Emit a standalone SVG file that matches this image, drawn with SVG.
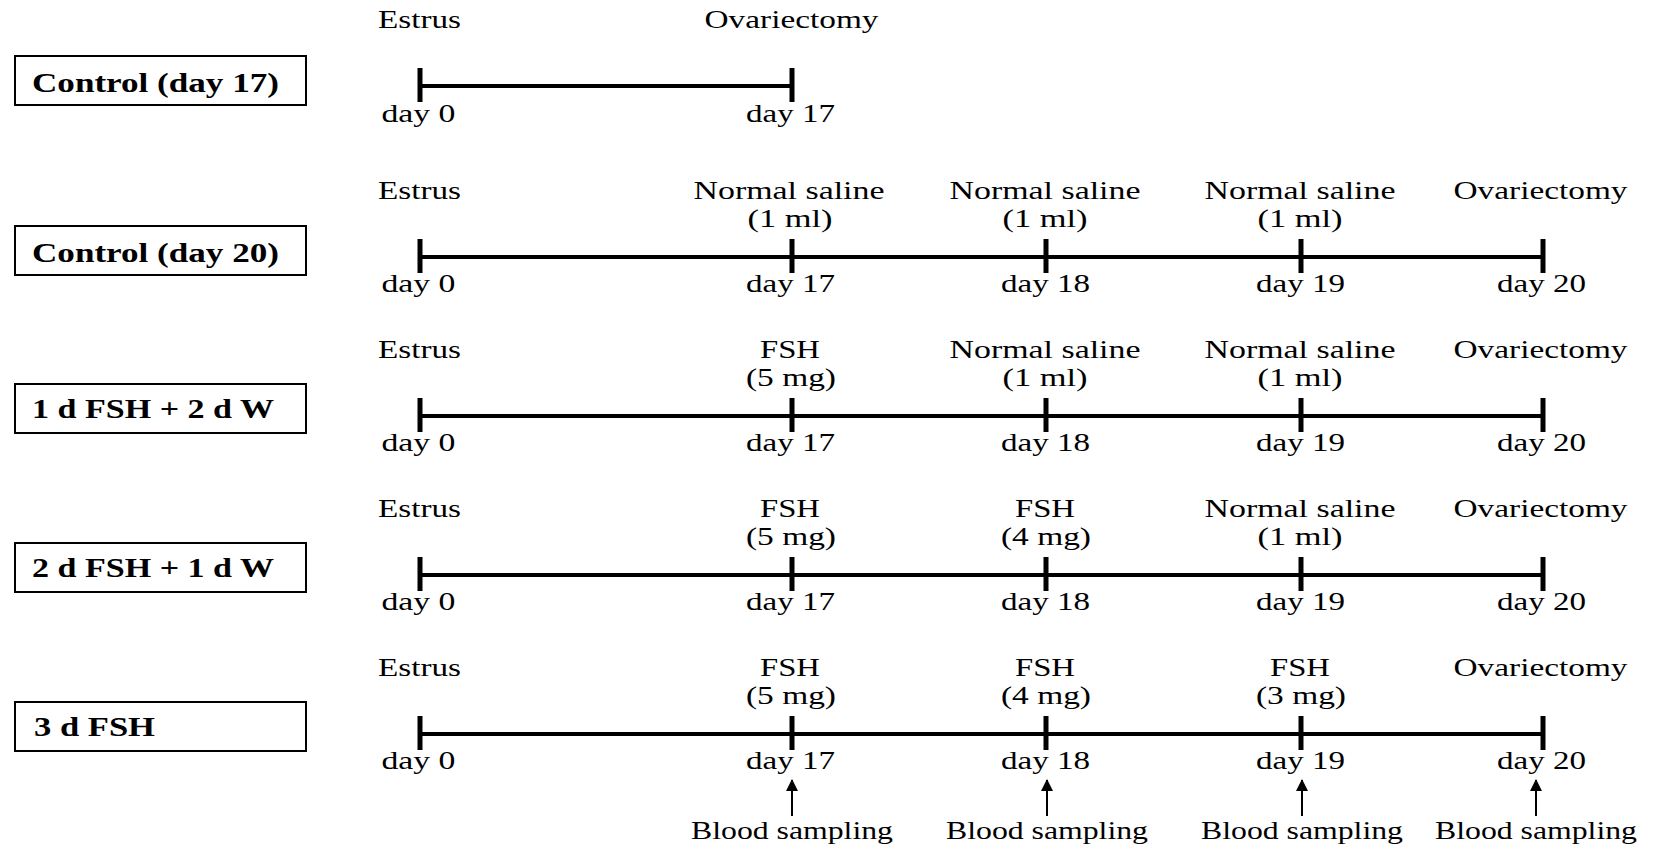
<svg xmlns="http://www.w3.org/2000/svg" width="1655" height="848" viewBox="0 0 1655 848">
<defs>
<style>
text{font-family:"Liberation Serif","Times New Roman",serif;fill:#000}
.t{font-size:25px;text-anchor:middle}
.b{font-size:27px;font-weight:bold;text-anchor:start}
.box{fill:#fff;stroke:#000;stroke-width:2}
.axis{stroke:#000;stroke-width:4;fill:none}
.tick{stroke:#000;stroke-width:5}
.arr{stroke:#000;stroke-width:2}
</style>
<marker id="ah" viewBox="0 0 12 12" refX="11" refY="6" markerWidth="12" markerHeight="12" markerUnits="userSpaceOnUse" orient="auto">
<path d="M0,0 L12,6 L0,12 Z" fill="#000"/>
</marker>
</defs>
<rect width="1655" height="848" fill="#fff"/>

<g id="row1">
<rect class="box" x="15" y="56" width="291" height="49"/>
<text class="b" x="32" y="92" textLength="247" lengthAdjust="spacingAndGlyphs">Control (day 17)</text>
<text class="t" x="419.5" y="28" textLength="83" lengthAdjust="spacingAndGlyphs">Estrus</text>
<text class="t" x="791.5" y="28" textLength="174" lengthAdjust="spacingAndGlyphs">Ovariectomy</text>
<line class="axis" x1="420" y1="86" x2="792" y2="86"/>
<line class="tick" x1="420" y1="68" x2="420" y2="102"/>
<line class="tick" x1="792" y1="68" x2="792" y2="102"/>
<text class="t" x="418.5" y="122" textLength="74" lengthAdjust="spacingAndGlyphs">day 0</text>
<text class="t" x="790.5" y="122" textLength="89" lengthAdjust="spacingAndGlyphs">day 17</text>
</g>

<g id="row2">
<rect class="box" x="15" y="226" width="291" height="49"/>
<text class="b" x="32" y="262" textLength="247" lengthAdjust="spacingAndGlyphs">Control (day 20)</text>
<text class="t" x="419.5" y="199" textLength="83" lengthAdjust="spacingAndGlyphs">Estrus</text>
<text class="t" x="789" y="199" textLength="191" lengthAdjust="spacingAndGlyphs">Normal saline</text>
<text class="t" x="790" y="227" textLength="85" lengthAdjust="spacingAndGlyphs">(1 ml)</text>
<text class="t" x="1045" y="199" textLength="191" lengthAdjust="spacingAndGlyphs">Normal saline</text>
<text class="t" x="1045" y="227" textLength="85" lengthAdjust="spacingAndGlyphs">(1 ml)</text>
<text class="t" x="1300" y="199" textLength="191" lengthAdjust="spacingAndGlyphs">Normal saline</text>
<text class="t" x="1300" y="227" textLength="85" lengthAdjust="spacingAndGlyphs">(1 ml)</text>
<text class="t" x="1540.5" y="199" textLength="174" lengthAdjust="spacingAndGlyphs">Ovariectomy</text>
<line class="axis" x1="420" y1="257" x2="1543" y2="257"/>
<line class="tick" x1="420" y1="239" x2="420" y2="273"/>
<line class="tick" x1="792" y1="239" x2="792" y2="273"/>
<line class="tick" x1="1046" y1="239" x2="1046" y2="273"/>
<line class="tick" x1="1301" y1="239" x2="1301" y2="273"/>
<line class="tick" x1="1543" y1="239" x2="1543" y2="273"/>
<text class="t" x="418.5" y="292" textLength="74" lengthAdjust="spacingAndGlyphs">day 0</text>
<text class="t" x="790.5" y="292" textLength="89" lengthAdjust="spacingAndGlyphs">day 17</text>
<text class="t" x="1045.5" y="292" textLength="89" lengthAdjust="spacingAndGlyphs">day 18</text>
<text class="t" x="1300.5" y="292" textLength="89" lengthAdjust="spacingAndGlyphs">day 19</text>
<text class="t" x="1541.5" y="292" textLength="89" lengthAdjust="spacingAndGlyphs">day 20</text>
</g>

<g id="row3">
<rect class="box" x="15" y="384" width="291" height="49"/>
<text class="b" x="32" y="418" textLength="242" lengthAdjust="spacingAndGlyphs">1 d FSH + 2 d W</text>
<text class="t" x="419.5" y="358" textLength="83" lengthAdjust="spacingAndGlyphs">Estrus</text>
<text class="t" x="790" y="358" textLength="60" lengthAdjust="spacingAndGlyphs">FSH</text>
<text class="t" x="791" y="386" textLength="90" lengthAdjust="spacingAndGlyphs">(5 mg)</text>
<text class="t" x="1045" y="358" textLength="191" lengthAdjust="spacingAndGlyphs">Normal saline</text>
<text class="t" x="1045" y="386" textLength="85" lengthAdjust="spacingAndGlyphs">(1 ml)</text>
<text class="t" x="1300" y="358" textLength="191" lengthAdjust="spacingAndGlyphs">Normal saline</text>
<text class="t" x="1300" y="386" textLength="85" lengthAdjust="spacingAndGlyphs">(1 ml)</text>
<text class="t" x="1540.5" y="358" textLength="174" lengthAdjust="spacingAndGlyphs">Ovariectomy</text>
<line class="axis" x1="420" y1="416" x2="1543" y2="416"/>
<line class="tick" x1="420" y1="398" x2="420" y2="432"/>
<line class="tick" x1="792" y1="398" x2="792" y2="432"/>
<line class="tick" x1="1046" y1="398" x2="1046" y2="432"/>
<line class="tick" x1="1301" y1="398" x2="1301" y2="432"/>
<line class="tick" x1="1543" y1="398" x2="1543" y2="432"/>
<text class="t" x="418.5" y="451" textLength="74" lengthAdjust="spacingAndGlyphs">day 0</text>
<text class="t" x="790.5" y="451" textLength="89" lengthAdjust="spacingAndGlyphs">day 17</text>
<text class="t" x="1045.5" y="451" textLength="89" lengthAdjust="spacingAndGlyphs">day 18</text>
<text class="t" x="1300.5" y="451" textLength="89" lengthAdjust="spacingAndGlyphs">day 19</text>
<text class="t" x="1541.5" y="451" textLength="89" lengthAdjust="spacingAndGlyphs">day 20</text>
</g>

<g id="row4">
<rect class="box" x="15" y="543" width="291" height="49"/>
<text class="b" x="32" y="577" textLength="242" lengthAdjust="spacingAndGlyphs">2 d FSH + 1 d W</text>
<text class="t" x="419.5" y="517" textLength="83" lengthAdjust="spacingAndGlyphs">Estrus</text>
<text class="t" x="790" y="517" textLength="60" lengthAdjust="spacingAndGlyphs">FSH</text>
<text class="t" x="791" y="545" textLength="90" lengthAdjust="spacingAndGlyphs">(5 mg)</text>
<text class="t" x="1045" y="517" textLength="60" lengthAdjust="spacingAndGlyphs">FSH</text>
<text class="t" x="1046" y="545" textLength="90" lengthAdjust="spacingAndGlyphs">(4 mg)</text>
<text class="t" x="1300" y="517" textLength="191" lengthAdjust="spacingAndGlyphs">Normal saline</text>
<text class="t" x="1300" y="545" textLength="85" lengthAdjust="spacingAndGlyphs">(1 ml)</text>
<text class="t" x="1540.5" y="517" textLength="174" lengthAdjust="spacingAndGlyphs">Ovariectomy</text>
<line class="axis" x1="420" y1="575" x2="1543" y2="575"/>
<line class="tick" x1="420" y1="557" x2="420" y2="591"/>
<line class="tick" x1="792" y1="557" x2="792" y2="591"/>
<line class="tick" x1="1046" y1="557" x2="1046" y2="591"/>
<line class="tick" x1="1301" y1="557" x2="1301" y2="591"/>
<line class="tick" x1="1543" y1="557" x2="1543" y2="591"/>
<text class="t" x="418.5" y="610" textLength="74" lengthAdjust="spacingAndGlyphs">day 0</text>
<text class="t" x="790.5" y="610" textLength="89" lengthAdjust="spacingAndGlyphs">day 17</text>
<text class="t" x="1045.5" y="610" textLength="89" lengthAdjust="spacingAndGlyphs">day 18</text>
<text class="t" x="1300.5" y="610" textLength="89" lengthAdjust="spacingAndGlyphs">day 19</text>
<text class="t" x="1541.5" y="610" textLength="89" lengthAdjust="spacingAndGlyphs">day 20</text>
</g>

<g id="row5">
<rect class="box" x="15" y="702" width="291" height="49"/>
<text class="b" x="34" y="736" textLength="121" lengthAdjust="spacingAndGlyphs">3 d FSH</text>
<text class="t" x="419.5" y="676" textLength="83" lengthAdjust="spacingAndGlyphs">Estrus</text>
<text class="t" x="790" y="676" textLength="60" lengthAdjust="spacingAndGlyphs">FSH</text>
<text class="t" x="791" y="704" textLength="90" lengthAdjust="spacingAndGlyphs">(5 mg)</text>
<text class="t" x="1045" y="676" textLength="60" lengthAdjust="spacingAndGlyphs">FSH</text>
<text class="t" x="1046" y="704" textLength="90" lengthAdjust="spacingAndGlyphs">(4 mg)</text>
<text class="t" x="1300" y="676" textLength="60" lengthAdjust="spacingAndGlyphs">FSH</text>
<text class="t" x="1301" y="704" textLength="90" lengthAdjust="spacingAndGlyphs">(3 mg)</text>
<text class="t" x="1540.5" y="676" textLength="174" lengthAdjust="spacingAndGlyphs">Ovariectomy</text>
<line class="axis" x1="420" y1="734" x2="1543" y2="734"/>
<line class="tick" x1="420" y1="716" x2="420" y2="750"/>
<line class="tick" x1="792" y1="716" x2="792" y2="750"/>
<line class="tick" x1="1046" y1="716" x2="1046" y2="750"/>
<line class="tick" x1="1301" y1="716" x2="1301" y2="750"/>
<line class="tick" x1="1543" y1="716" x2="1543" y2="750"/>
<text class="t" x="418.5" y="769" textLength="74" lengthAdjust="spacingAndGlyphs">day 0</text>
<text class="t" x="790.5" y="769" textLength="89" lengthAdjust="spacingAndGlyphs">day 17</text>
<text class="t" x="1045.5" y="769" textLength="89" lengthAdjust="spacingAndGlyphs">day 18</text>
<text class="t" x="1300.5" y="769" textLength="89" lengthAdjust="spacingAndGlyphs">day 19</text>
<text class="t" x="1541.5" y="769" textLength="89" lengthAdjust="spacingAndGlyphs">day 20</text>
</g>

<g id="connectors">
<line class="arr" x1="792" y1="816" x2="792" y2="780" marker-end="url(#ah)"/>
<line class="arr" x1="1047" y1="816" x2="1047" y2="780" marker-end="url(#ah)"/>
<line class="arr" x1="1302" y1="816" x2="1302" y2="780" marker-end="url(#ah)"/>
<line class="arr" x1="1536" y1="816" x2="1536" y2="780" marker-end="url(#ah)"/>
</g>

<g id="sampling">
<text class="t" x="792" y="839" textLength="202" lengthAdjust="spacingAndGlyphs">Blood sampling</text>
<text class="t" x="1047" y="839" textLength="202" lengthAdjust="spacingAndGlyphs">Blood sampling</text>
<text class="t" x="1302" y="839" textLength="202" lengthAdjust="spacingAndGlyphs">Blood sampling</text>
<text class="t" x="1536" y="839" textLength="202" lengthAdjust="spacingAndGlyphs">Blood sampling</text>
</g>
</svg>
